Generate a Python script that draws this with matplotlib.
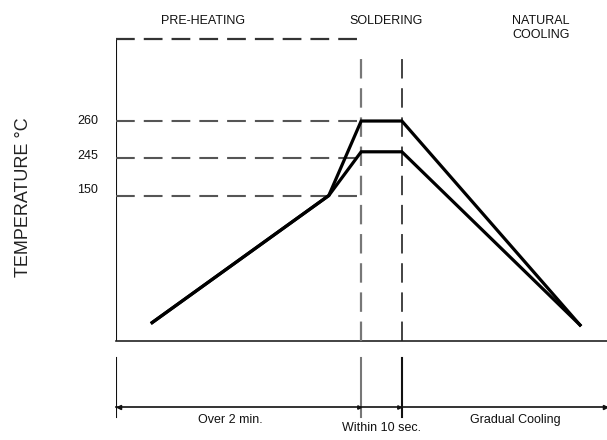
import matplotlib
matplotlib.use("Agg")
import matplotlib.pyplot as plt

plt.rcParams['font.family'] = ['Liberation Sans', 'DejaVu Sans']
plt.rcParams['lines.scale_dashes'] = False

# ---- schematic data (x: time-like units 0..100, y: schematic temperature level 0..100)
profile_x = [7.3, 43.3, 49.9, 58.2, 94.5]
profile_260_y = [6.0, 48.1, 72.8, 72.8, 5.2]
profile_245_y = [6.0, 48.1, 62.6, 62.6, 5.2]

ref_levels = [48.1, 60.7, 72.8]          # dashed guide lines for 150 / 245 / 260
tick_pos = [50.5, 61.8, 73.2]
tick_labels = ['150', '245', '260']
top_level = 100.0

phase_bounds = [0.0, 49.9, 58.2, 100.0]   # start, soldering start, soldering end, right end
phase_names = ['PRE-HEATING', 'SOLDERING', 'NATURAL\nCOOLING']
phase_name_x = [17.7, 54.9, 86.5]
phase_name_y = [106.1, 106.1, 103.6]
duration_labels = ['Over 2 min.', 'Within 10 sec.', 'Gradual Cooling']
duration_x = [23.2, 54.1, 81.3]
duration_y = [-26.3, -28.9, -26.3]

fig = plt.figure(figsize=(6.07, 4.40), dpi=100)
ax = fig.add_axes([116.3 / 607, 0, 1 - 116.3 / 607, 1])
ax.set_xlim(0, 100)
ax.set_ylim(-32.9, 112.9)
for s in ax.spines.values():
    s.set_visible(False)
ax.set_xticks([])

# axes frame (left and bottom)
ax.plot([0, 0], [0, top_level], color='#111111', lw=1.5, solid_capstyle='butt')
ax.plot([0, 100], [0, 0], color='#222222', lw=1.2, clip_on=False)

# dashed horizontal guides
dash = (0, (13.5, 6.5))
ax.plot([0, phase_bounds[1]], [top_level, top_level], color='#333333', lw=1.6, linestyle=dash)
for lv in ref_levels:
    ax.plot([0, phase_bounds[1]], [lv, lv], color='#555555', lw=1.5, linestyle=dash)

# dashed vertical guides
ax.plot([phase_bounds[1]] * 2, [0, 95.7], color='#777777', lw=1.6, linestyle=(0, (14, 7)))
ax.plot([phase_bounds[2]] * 2, [0, 95.7], color='#222222', lw=1.2, linestyle=(0, (14, 7)))

# profiles
ax.plot(profile_x, profile_260_y, color='black', lw=2.3, solid_joinstyle='miter')
ax.plot(profile_x, profile_245_y, color='black', lw=2.3, solid_joinstyle='miter')

# y tick labels
ax.set_yticks(tick_pos)
ax.set_yticklabels(tick_labels, fontsize=9, color='#111111')
ax.tick_params(axis='y', length=0, pad=13)

ax.text(-19, 47.5, 'TEMPERATURE \u00b0C', rotation=90, ha='center', va='center',
        fontsize=13, color='#222222', clip_on=False)

# phase names on top
for name, x, y in zip(phase_names, phase_name_x, phase_name_y):
    ax.text(x, y, name, ha='center', va='center', fontsize=9, color='#111111',
            linespacing=1.15)

# lower timing annotation
colors_low = ['#111111', '#777777', '#111111']
for xb, c in zip(phase_bounds[:3], colors_low):
    ax.plot([xb, xb], [-5.7, -25.3], color=c, lw=1.5)
ax.plot([0, 100], [-21.9, -21.9], color='#111111', lw=1.2, clip_on=False)
ax.plot([0.6], [-21.9], marker='<', color='#111111', ms=3, clip_on=False)
ax.plot([99.5], [-21.9], marker='>', color='#111111', ms=3, clip_on=False)
for xb in phase_bounds[1:3]:
    ax.plot([xb - 0.5], [-21.9], marker='>', color='#111111', ms=2.5, clip_on=False)

for lab, x, y in zip(duration_labels, duration_x, duration_y):
    ax.text(x, y, lab, ha='center', va='center', fontsize=9, color='#111111')

fig.savefig('out.png', dpi=100)
